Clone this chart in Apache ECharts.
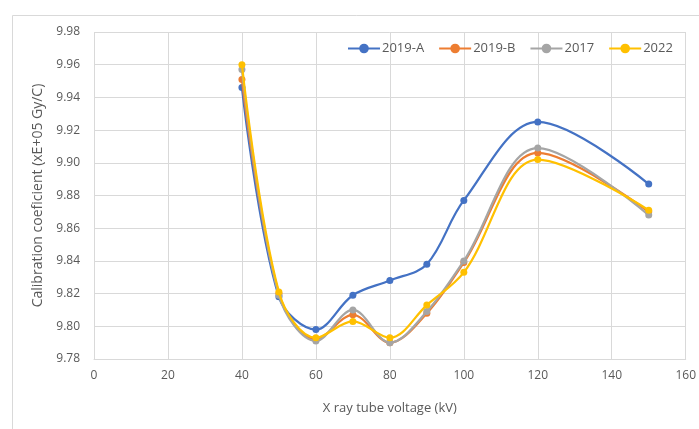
<!DOCTYPE html>
<html><head><meta charset="utf-8">
<script src="https://cdn.jsdelivr.net/npm/echarts@6/dist/echarts.min.js"></script>
<style>html,body{margin:0;padding:0;background:#fff}#c{width:699px;height:429px}</style>
</head><body><div id="c"></div>
<script>
var voltages = [40, 50, 60, 70, 80, 90, 100, 120, 150];
var s2019A = [9.946, 9.818, 9.798, 9.819, 9.828, 9.838, 9.877, 9.925, 9.887];
var s2019B = [9.951, 9.820, 9.792, 9.807, 9.790, 9.808, 9.839, 9.906, 9.870];
var s2017  = [9.957, 9.819, 9.791, 9.810, 9.790, 9.809, 9.840, 9.909, 9.868];
var s2022  = [9.960, 9.821, 9.793, 9.803, 9.793, 9.813, 9.833, 9.902, 9.871];
var seriesNames = ['2019-A', '2019-B', '2017', '2022'];
var seriesColors = ['#4472C4', '#ED7D31', '#A5A5A5', '#FFC000'];
var seriesData = [s2019A, s2019B, s2017, s2022];

function pairs(vals){ return voltages.map(function(v,i){ return [v, vals[i]]; }); }

var chart = echarts.init(document.getElementById('c'), null, {renderer:'canvas'});
chart.setOption({
  animation: false,
  backgroundColor: '#fff',
  graphic: [{type:'rect', shape:{x:12.5, y:15.5, width:720, height:440}, style:{fill:'none', stroke:'#d9d9d9', lineWidth:1}, z:-1}],
  legend: {
    top: 37, left: 342, itemWidth: 32, itemHeight: 12, itemGap: 14,
    textStyle: {color:'#595959', fontSize:13, padding:[0,0,0,-3], fontFamily:'Open Sans, sans-serif'},
    data: seriesNames
  },
  grid: {left: 94, top: 32, right: 9, bottom: 70},
  xAxis: {
    type: 'value', min: 0, max: 160, interval: 20,
    name: 'X ray tube voltage (kV)', nameLocation: 'middle', nameGap: 43,
    nameTextStyle: {color:'#595959', fontSize:13, fontFamily:'Open Sans, sans-serif'},
    axisLine: {show:true, lineStyle:{color:'#d9d9d9'}},
    axisTick: {show:false},
    axisLabel: {color:'#595959', fontSize:12, margin:11, fontFamily:'Open Sans, sans-serif'},
    splitLine: {show:true, lineStyle:{color:'#d9d9d9'}}
  },
  yAxis: {
    type: 'value', min: 9.78, max: 9.98, interval: 0.02,
    name: 'Calibration coeficient (xE+05 Gy/C)', nameLocation: 'middle', nameGap: 47,
    nameTextStyle: {color:'#595959', fontSize:14, fontFamily:'Open Sans, sans-serif'},
    axisLine: {show:false}, axisTick: {show:false},
    axisLabel: {color:'#595959', fontSize:12, margin:14, fontFamily:'Open Sans, sans-serif',
      formatter: function(v){ return v.toFixed(2); }},
    splitLine: {show:true, lineStyle:{color:'#d9d9d9'}}
  },
  series: seriesNames.map(function(n, i){
    return {
      name: n, type: 'line', smooth: 0.35,
      data: pairs(seriesData[i]),
      symbol: 'circle', symbolSize: 7,
      lineStyle: {width: 2.25, color: seriesColors[i]},
      itemStyle: {color: seriesColors[i]},
      z: 2 + i
    };
  })
});
</script></body></html>
